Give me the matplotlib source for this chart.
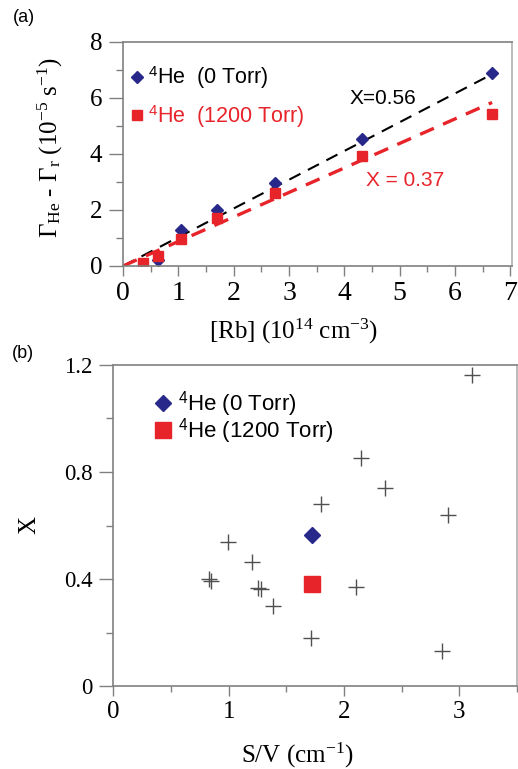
import matplotlib.pyplot as plt
from matplotlib.ticker import MultipleLocator, FixedFormatter

plt.rcParams['font.family'] = ['Liberation Serif', 'DejaVu Serif']
plt.rcParams['mathtext.fontset'] = 'custom'
plt.rcParams['mathtext.rm'] = 'Liberation Serif'
plt.rcParams['mathtext.it'] = 'Liberation Serif:italic'
plt.rcParams['mathtext.sf'] = 'Liberation Sans'

# panel (a): relaxation rate vs Rb density
rb_0 = [0.625, 1.04, 1.70, 2.74, 4.32, 6.67]
gam_0 = [0.2, 1.3, 2.0, 2.97, 4.53, 6.9]
rb_1200 = [0.36, 0.625, 1.04, 1.70, 2.74, 4.32, 6.67]
gam_1200 = [0.09, 0.35, 0.98, 1.7, 2.6, 3.94, 5.43]
fit_x = [0, 6.67]
fit_0 = [0, 6.85]
fit_1200 = [0, 5.84]

# panel (b): X vs surface-to-volume ratio
sv_other = [3.106, 2.149, 2.359, 1.798, 2.899, 0.998, 1.2, 0.834, 0.85,
            1.257, 1.28, 1.381, 2.1, 1.712, 2.847]
x_other = [1.163, 0.851, 0.741, 0.680, 0.641, 0.540, 0.462, 0.399, 0.393,
           0.367, 0.362, 0.299, 0.371, 0.181, 0.131]
sv_he = [1.726]
x_he0 = [0.564]
x_he1200 = [0.38]
b_yticks = ['0', '0.4', '0.8', '1.2']

blue = '#27288a'
red = '#e8242b'
gray = '#808080'
W, H = 518, 769


def style_axes(ax):
    for s in ax.spines.values():
        s.set_color(gray)
        s.set_linewidth(1.2)
    ax.spines['right'].set_color('#b0b0b0')


fig = plt.figure(figsize=(W / 100, H / 100), dpi=100)

# ---- (a)
ax1 = fig.add_axes([123 / W, 1 - 266 / H, 389 / W, 224 / H])
ax1.plot(fit_x, fit_0, color='black', lw=1.5, dashes=(6, 4))
ax1.plot(fit_x, fit_1200, color=red, lw=2.4, dashes=(4.5, 3))
ax1.plot(rb_0, gam_0, 'D', color=blue, ms=6.5, ls='none',
         label=r'$^{\mathsf{4}}$He  (0 Torr)')
ax1.plot(rb_1200, gam_1200, 's', color=red, ms=6.5, ls='none',
         label=r'$^{\mathsf{4}}$He  (1200 Torr)')
ax1.set_xlim(0, 7.03)
ax1.set_ylim(0, 8)
ax1.xaxis.set_major_locator(MultipleLocator(1))
ax1.xaxis.set_minor_locator(MultipleLocator(0.5))
ax1.yaxis.set_major_locator(MultipleLocator(2))
ax1.yaxis.set_minor_locator(MultipleLocator(1))
ax1.tick_params(axis='x', which='major', length=7, width=1, color=gray,
                labelsize=20, pad=4)
ax1.tick_params(axis='x', which='minor', length=4.5, width=1, color=gray)
ax1.tick_params(axis='y', which='major', length=10, width=1, color=gray,
                labelsize=18, pad=5)
ax1.tick_params(axis='y', which='minor', length=5, width=1, color=gray)
style_axes(ax1)
ax1.set_xlabel(r'[Rb] (10$^{14}$ cm$^{-3}$)', fontsize=18)
ax1.xaxis.set_label_coords((294 - 123) / 389, -0.225)
ax1.set_ylabel(r'$\Gamma_{\rm He}$ - $\Gamma_{\rm r}$ (10$^{-5}$ s$^{-1}$)',
               fontsize=18)
ax1.yaxis.set_label_coords(-0.15, 0.53)

leg1 = ax1.legend(loc='upper left', bbox_to_anchor=(-0.028, 0.985), frameon=False,
                  handlelength=0.5, handletextpad=0.25, labelspacing=0.56,
                  prop={'family': 'Liberation Sans', 'size': 15.5})
leg1.get_texts()[1].set_color(red)
fig.text(350 / W, 1 - 98 / H, 'X=0.56', fontsize=15,
         family='Liberation Sans', va='center')
fig.text(366 / W, 1 - 180 / H, 'X = 0.37', fontsize=15,
         family='Liberation Sans', va='center', color=red)
fig.text(13 / W, 1 - 17 / H, '(a)', fontsize=13, family='Liberation Sans',
         va='center')

# ---- (b)
ax2 = fig.add_axes([113.3 / W, 1 - 686 / H, 403.7 / W, 321 / H])
ax2.plot(sv_other, x_other, '+', color='#505050', ms=11, mew=1.0, ls='none')
ax2.plot(sv_he, x_he0, 'D', color=blue, ms=8, ls='none',
         label=r'$^{\mathsf{4}}$He (0 Torr)')
ax2.plot(sv_he, x_he1200, 's', color=red, ms=12, ls='none',
         label=r'$^{\mathsf{4}}$He (1200 Torr)')
ax2.set_xlim(0, 3.5)
ax2.set_ylim(0, 1.2)
ax2.xaxis.set_major_locator(MultipleLocator(1))
ax2.xaxis.set_minor_locator(MultipleLocator(0.5))
ax2.set_yticks([0, 0.4, 0.8, 1.2])
ax2.yaxis.set_major_formatter(FixedFormatter(b_yticks))
ax2.yaxis.set_minor_locator(MultipleLocator(0.2))
ax2.tick_params(axis='x', which='major', length=7, width=1, color=gray,
                labelsize=18, pad=4)
ax2.tick_params(axis='x', which='minor', length=4.5, width=1, color=gray)
ax2.tick_params(axis='y', which='major', length=10, width=1, color=gray,
                labelsize=16.5, pad=5)
ax2.tick_params(axis='y', which='minor', length=5, width=1, color=gray)
style_axes(ax2)
ax2.set_xlabel(r'S/V (cm$^{-1}$)', fontsize=18)
ax2.xaxis.set_label_coords((297 - 113.3) / 403.7, -0.17)
ax2.set_ylabel('X', fontsize=18)
ax2.yaxis.set_label_coords(-0.18, 0.5)

ax2.legend(loc='upper left', bbox_to_anchor=(0.055, 0.985), frameon=False,
           handlelength=0.7, handletextpad=0.3, labelspacing=-0.12,
           prop={'family': 'Liberation Sans', 'size': 16})
fig.text(12 / W, 1 - 354 / H, '(b)', fontsize=13, family='Liberation Sans',
         va='center')

fig.savefig('out.png', dpi=100)
